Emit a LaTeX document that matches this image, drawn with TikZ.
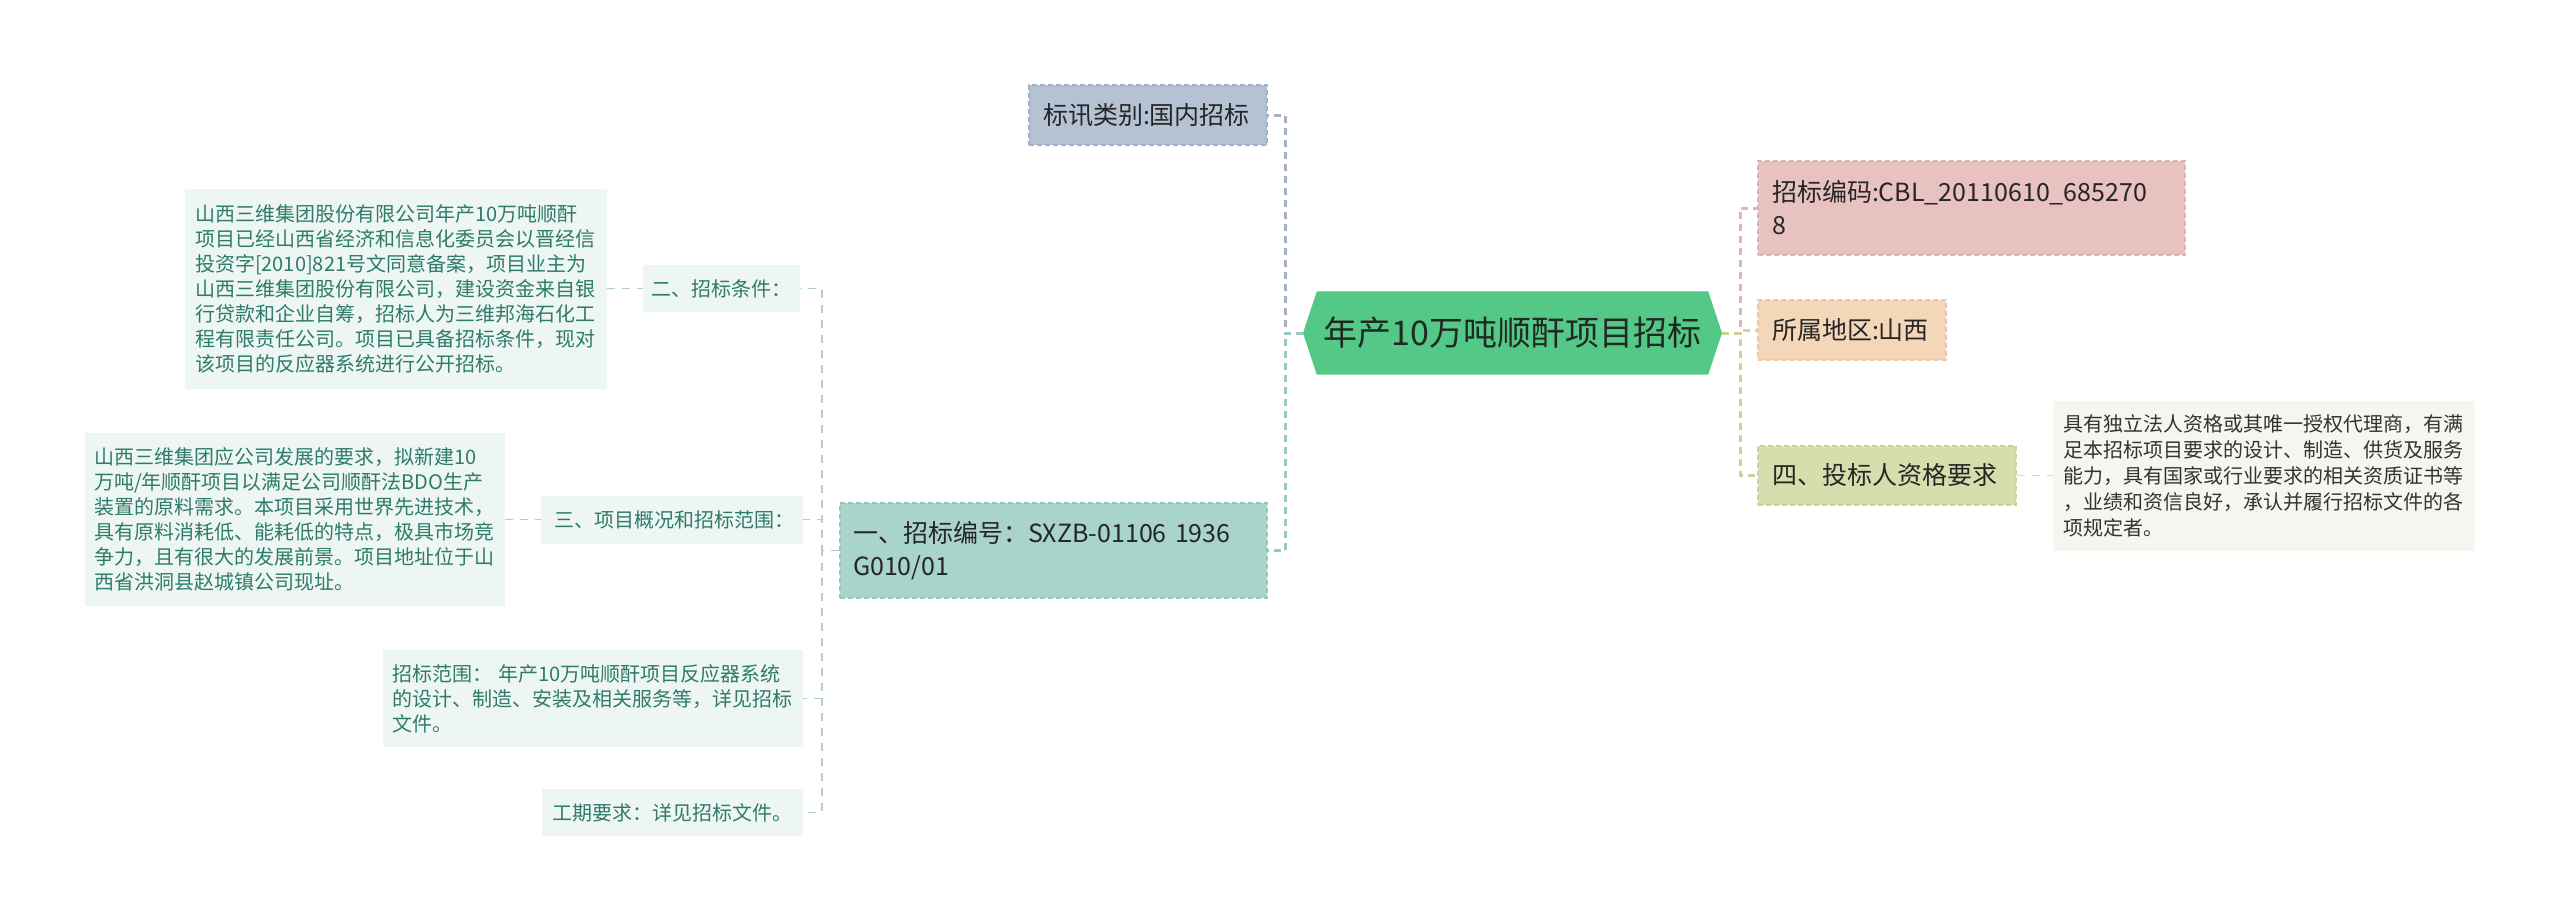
\documentclass[tikz,border=0pt]{standalone}
\usepackage{fontspec}
\setmainfont{Noto Sans CJK SC}
\usetikzlibrary{backgrounds}
\definecolor{rootfill}{HTML}{54C987}
\definecolor{roottxt}{HTML}{1E2A22}
\definecolor{txtdark}{HTML}{262626}
\definecolor{bxfill}{HTML}{B4C2D3}
\definecolor{bxdraw}{HTML}{A3B2C4}
\definecolor{yifill}{HTML}{A8D4CB}
\definecolor{yidraw}{HTML}{96C7BD}
\definecolor{bmfill}{HTML}{E8C1C1}
\definecolor{bmdraw}{HTML}{DFB4B4}
\definecolor{ssfill}{HTML}{F4D6B8}
\definecolor{ssdraw}{HTML}{EBC9A6}
\definecolor{sifill}{HTML}{D7DDAC}
\definecolor{sidraw}{HTML}{CAD19B}
\definecolor{subfill}{HTML}{EEF6F5}
\definecolor{subtxt}{HTML}{2E7C66}
\definecolor{sublinkc}{HTML}{AFD0CA}
\definecolor{rlfill}{HTML}{F5F6EF}
\definecolor{rltxt}{HTML}{333333}
\definecolor{rllinkc}{HTML}{D6DBB9}
\definecolor{lbx}{HTML}{A4B2C3}
\definecolor{lyi}{HTML}{98C8BF}
\definecolor{lbm}{HTML}{DBB7B7}
\definecolor{lss}{HTML}{E4C9AA}
\definecolor{lsi}{HTML}{CAD29A}
\tikzset{
  box/.style={rectangle, inner sep=0pt, anchor=center, align=left},
  lone/.style 2 args={box, fill=#1, draw=#2, dash pattern=on 5pt off 3pt, line width=1.3pt,
    text=txtdark, font=\fontsize{25}{33}\selectfont},
  subbox/.style={box, fill=subfill, text=subtxt, font=\fontsize{20}{25}\selectfont},
  link/.style={draw=#1, line width=3pt, dash pattern=on 7pt off 5pt},
  sublink/.style={draw=#1, line width=1.8pt, dash pattern=on 8pt off 7pt},
}
\begin{document}
\begin{tikzpicture}[x=1pt,y=-1pt]
\useasboundingbox (0,0) rectangle (2560,921);

% root
\node[box, align=center, minimum width=391pt, minimum height=83pt, text=roottxt,
  font=\fontsize{34}{40}\selectfont] (root) at (1512.5,333) {年产10万吨顺酐项目招标};
\coordinate (rootL) at (1303,333);
\coordinate (rootR) at (1722,333);
\coordinate (lspine) at (1285,333);
\coordinate (rspine) at (1740,333);

% level 1 left
\node[lone={bxfill}{bxdraw}, minimum width=238pt, minimum height=60pt, text width=210pt]
  (biaoxun) at (1148,115) {标讯类别:国内招标};
\node[lone={yifill}{yidraw}, minimum width=427pt, minimum height=95pt, text width=401pt]
  (yi) at (1053.5,550.5) {一、招标编号：SXZB-01106 1936\\G010/01};

% level 1 right
\node[lone={bmfill}{bmdraw}, minimum width=427pt, minimum height=94pt, text width=399pt]
  (bianma) at (1971.5,208) {招标编码:CBL\_20110610\_685270\\8};
\node[lone={ssfill}{ssdraw}, minimum width=188pt, minimum height=60pt, text width=160pt]
  (suoshu) at (1852,330) {所属地区:山西};
\node[lone={sifill}{sidraw}, minimum width=258pt, minimum height=59pt, text width=230pt]
  (si) at (1887,475.5) {四、投标人资格要求};

% right detail
\node[box, fill=rlfill, text=rltxt, font=\fontsize{20}{26}\selectfont,
  minimum width=422pt, minimum height=150pt, text width=402pt]
  (rlong) at (2264,475.5) {具有独立法人资格或其唯一授权代理商，有满\\足本招标项目要求的设计、制造、供货及服务\\能力，具有国家或行业要求的相关资质证书等\\，业绩和资信良好，承认并履行招标文件的各\\项规定者。};

% left sub nodes
\coordinate (lsub) at (822,550.5);
\node[subbox, minimum width=157pt, minimum height=47pt, text width=141pt]
  (tiaojian) at (721.5,288.5) {二、招标条件：};
\node[subbox, minimum width=422pt, minimum height=200pt, text width=402pt]
  (long1) at (396,288.5) {山西三维集团股份有限公司年产10万吨顺酐\\项目已经山西省经济和信息化委员会以晋经信\\投资字[2010]821号文同意备案，项目业主为\\山西三维集团股份有限公司，建设资金来自银\\行贷款和企业自筹，招标人为三维邦海石化工\\程有限责任公司。项目已具备招标条件，现对\\该项目的反应器系统进行公开招标。};
\node[subbox, minimum width=262pt, minimum height=48pt, text width=236pt]
  (gaikuang) at (672,519.5) {三、项目概况和招标范围：};
\node[subbox, minimum width=420pt, minimum height=173pt, text width=402pt]
  (long2) at (295,519.5) {山西三维集团应公司发展的要求，拟新建10\\万吨/年顺酐项目以满足公司顺酐法BDO生产\\装置的原料需求。本项目采用世界先进技术，\\具有原料消耗低、能耗低的特点，极具市场竞\\争力，且有很大的发展前景。项目地址位于山\\西省洪洞县赵城镇公司现址。};
\node[subbox, minimum width=420pt, minimum height=97pt, text width=402pt]
  (fanwei) at (593,698.5) {招标范围：\hspace{6pt}年产10万吨顺酐项目反应器系统\\的设计、制造、安装及相关服务等，详见招标\\文件。};
\node[subbox, minimum width=261pt, minimum height=47pt, text width=240pt]
  (gongqi) at (672.5,812.5) {工期要求：详见招标文件。};

% background: white + hexagon
\begin{scope}[on background layer]
  \fill[white] (0,0) rectangle (2560,921);
  \fill[rootfill] (rootL) -- (root.north west) -- (root.north east) -- (rootR)
    -- (root.south east) -- (root.south west) -- cycle;
\end{scope}

% connectors from root
\draw[link=lbx] (rootL) -- (lspine) |- (biaoxun.east);
\draw[link=lyi] (rootL) -- (lspine) |- (yi.east);
\draw[link=lbm] (rootR) -- (rspine) |- (bianma.west);
\draw[link=lss] (rootR) -- (rspine) |- (suoshu.west);
\draw[link=lsi] (rootR) -- (rspine) |- (si.west);

% sub connectors
\draw[sublink=sublinkc] (yi.west) -- (lsub) |- (tiaojian.east);
\draw[sublink=sublinkc] (yi.west) -- (lsub) |- (gaikuang.east);
\draw[sublink=sublinkc] (yi.west) -- (lsub) |- (fanwei.east);
\draw[sublink=sublinkc] (yi.west) -- (lsub) |- (gongqi.east);
\draw[sublink=sublinkc] (long1.east) -- (tiaojian.west);
\draw[sublink=sublinkc] (long2.east) -- (gaikuang.west);
\draw[sublink=rllinkc] (si.east) -- (rlong.west);
\end{tikzpicture}
\end{document}
